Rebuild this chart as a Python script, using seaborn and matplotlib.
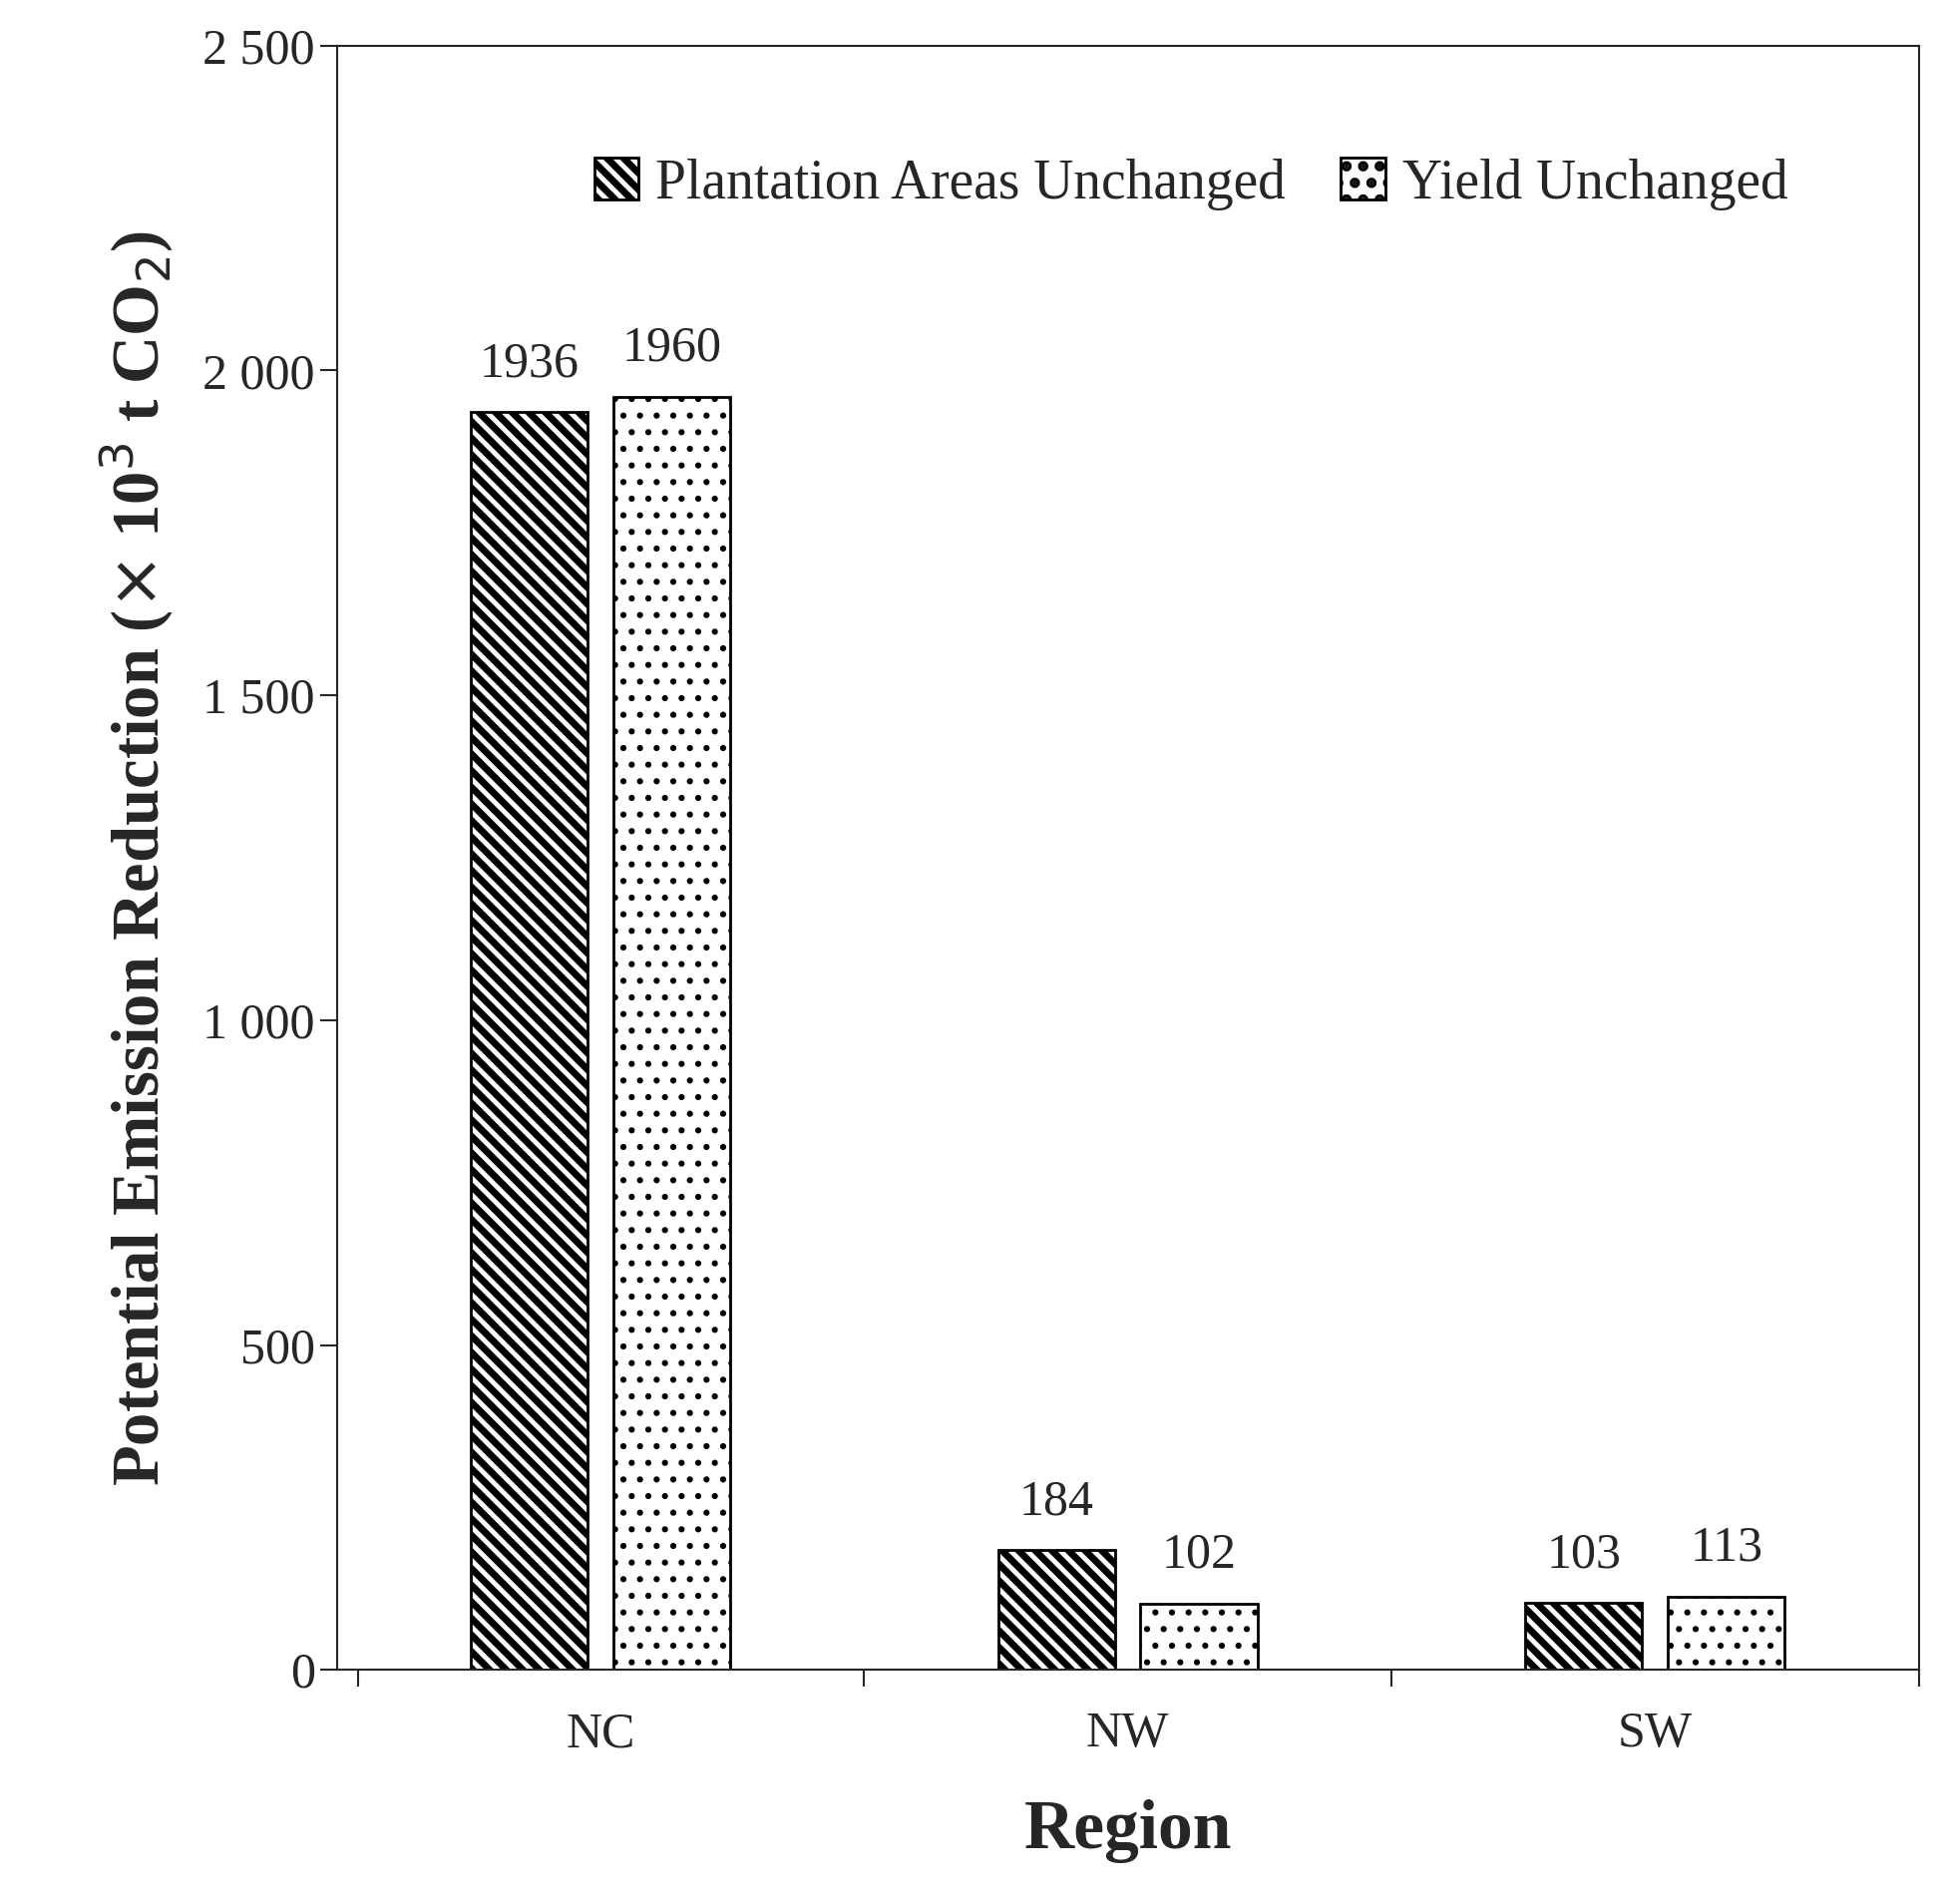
import pandas as pd
import matplotlib.pyplot as plt
import seaborn as sns
from matplotlib.patches import Patch
from matplotlib.ticker import FuncFormatter

regions = ['NC', 'NW', 'SW']
scenarios = ['Plantation Areas Unchanged', 'Yield Unchanged']
area_unchanged = [1936, 184, 103]
yield_unchanged = [1960, 102, 113]

df = pd.DataFrame({
    'Region': regions * 2,
    'Scenario': [scenarios[0]] * 3 + [scenarios[1]] * 3,
    'Value': area_unchanged + yield_unchanged,
})

sns.set_style('ticks')
plt.rcParams['font.family'] = ['Liberation Serif', 'DejaVu Serif']
plt.rcParams['hatch.linewidth'] = 5

fig = plt.figure(figsize=(19.51, 19.09), dpi=100)
ax = fig.add_axes([0.173, 0.123, 0.813, 0.853])
sns.barplot(data=df, x='Region', y='Value', hue='Scenario', palette=['white', 'white'],
            edgecolor='black', linewidth=2, width=0.54, gap=0.18, ax=ax, legend=False)

hatches = ['\\\\', '.']
for i, cont in enumerate(ax.containers):
    for bar in cont:
        bar.set_hatch(hatches[i])
        bar.set_hatch_linewidth(5 if i == 0 else 2)
    ax.bar_label(cont, labels=[str(int(v)) for v in cont.datavalues], padding=18, fontsize=36)

ax.set_ylim(0, 2500)
ax.set_xlim(-0.5, 2.5)
ax.set_yticks(range(0, 2501, 500))
ax.yaxis.set_major_formatter(FuncFormatter(lambda v, p: f'{int(v):,}'.replace(',', ' ')))
ax.set_xticks([-0.46, 0.5, 1.5, 2.5], minor=True)
ax.tick_params(axis='x', which='major', length=0, labelsize=36, pad=30)
ax.tick_params(axis='x', which='minor', length=12, width=1.5, direction='out')
ax.tick_params(axis='y', labelsize=36, length=12, width=1.5)
for s in ax.spines.values():
    s.set_linewidth(1.5)

ax.set_xlabel('Region', fontsize=50, fontweight='bold', labelpad=30)
ax.set_ylabel(r'Potential Emission Reduction ($\times$ 10$^3$ t CO$_2$)', fontsize=48,
              fontweight='bold', labelpad=20)

handles = [Patch(facecolor='white', edgecolor='black', hatch=h, linewidth=2) for h in hatches]
leg = ax.legend(handles, scenarios, loc='center', bbox_to_anchor=(0.54, 0.915), ncol=2,
                frameon=False, fontsize=40, handlelength=0.8, handleheight=0.8,
                handletextpad=0.3, columnspacing=1.0)

fig.savefig('out.png', dpi=100)
